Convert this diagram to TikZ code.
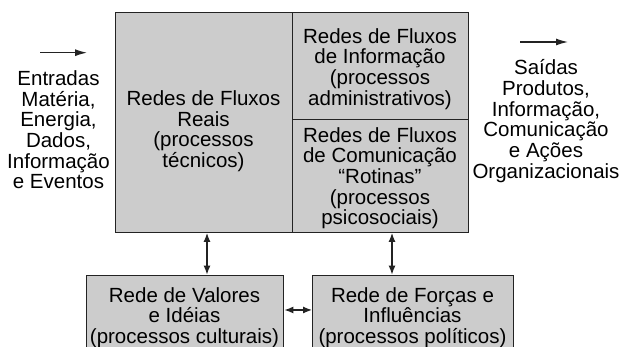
\documentclass[tikz,border=0pt]{standalone}
\usepackage{fontspec}
\setmainfont{Liberation Sans}
\usetikzlibrary{arrows.meta}
\definecolor{boxgray}{RGB}{204,204,204}
\definecolor{edge}{RGB}{35,35,35}
\tikzset{
  rede/.style={draw=edge, fill=boxgray, line width=1.4pt, anchor=south west, inner sep=0pt},
  txt/.style={align=center, inner sep=0pt, font=\fontsize{20.5}{20.7}\selectfont},
  flow/.style={draw=edge, line width=1.2pt, -{Latex[length=12pt,width=7pt]}},
  both/.style={draw=edge, line width=1.2pt, {Latex[length=9pt,width=7pt]}-{Latex[length=9pt,width=7pt]}}
}
\begin{document}
\begin{tikzpicture}[x=1pt,y=1pt]
    \useasboundingbox (0,0) rectangle (625,347);
    \clip (0,0) rectangle (625,347);
    % caixas
    \node [rede, minimum width=177pt, minimum height=220pt] (reais) at (115,114) {};
    \node [rede, minimum width=176pt, minimum height=107pt] (info) at (292,227) {};
    \node [rede, minimum width=176pt, minimum height=113pt] (comun) at (292,114) {};
    \node [rede, minimum width=197pt, minimum height=86pt] (valores) at (86,-15) {};
    \node [rede, minimum width=201pt, minimum height=86pt] (forcas) at (312,-15) {};
    % textos
    \node [txt] (entradas) at (58.5,217.1) {Entradas\\Matéria,\\Energia,\\Dados,\\Informação\\e Eventos};
    \node [txt] (reaisT) at (203.5,215.7) {Redes de Fluxos\\Reais\\(processos\\técnicos)};
    \node [txt] (infoT) at (380,278.2) {Redes de Fluxos\\de Informação\\(processos\\administrativos)};
    \node [txt] (comunT) at (380,168.8) {Redes de Fluxos\\de Comunicação\\“Rotinas”\\(processos\\psicosociais)};
    \node [txt] (saidas) at (546,225.8) {Saídas\\Produtos,\\Informação,\\Comunicação\\e Ações\\Organizacionais};
    \node [txt] (valoresT) at (184.5,29.5) {Rede de Valores\\e Idéias\\(processos culturais)};
    \node [txt] (forcasT) at (412.5,29.5) {Rede de Forças e\\Influências\\(processos políticos)};
    % setas
    \coordinate (inA) at (40,294.3);
    \coordinate (inB) at (87,294.3);
    \coordinate (outA) at (520,305);
    \coordinate (outB) at (568,305);
    \coordinate (vL) at (207,0);
    \coordinate (vR) at (392,0);
    \coordinate (hM) at (0,37);
    \draw [flow] (inA) -- (inB);
    \draw [flow] (outA) -- (outB);
    \draw [both] (reais.south -| vL) -- (valores.north -| vL);
    \draw [both] (comun.south -| vR) -- (forcas.north -| vR);
    \draw [both] (valores.east |- hM) -- (forcas.west |- hM);
\end{tikzpicture}
\end{document}
